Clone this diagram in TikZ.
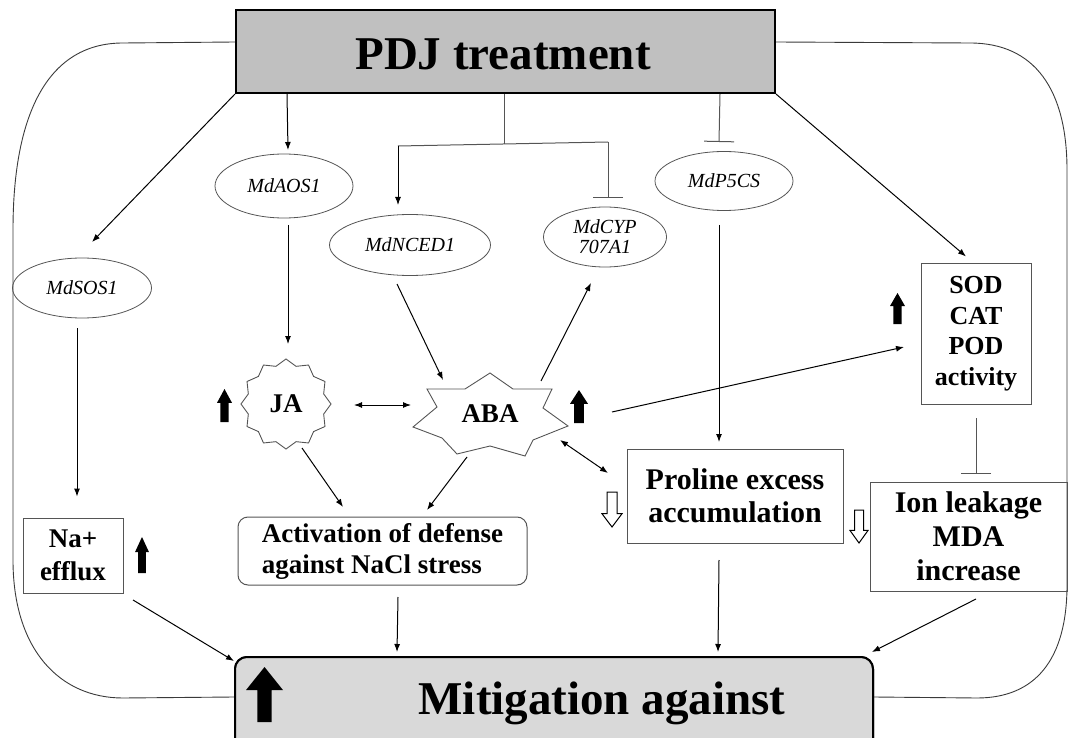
\documentclass[tikz,border=0pt]{standalone}
\usepackage{fontspec}
\setmainfont{Liberation Serif}
\usetikzlibrary{arrows.meta,calc,shapes.geometric}
\definecolor{pdjgray}{HTML}{C0C0C0}
\definecolor{mitgray}{HTML}{D9D9D9}
\definecolor{olgray}{HTML}{555555}
\definecolor{framec}{HTML}{3A3A3A}
\newcommand\blkup[5]{%
  \pgfmathsetmacro\bcx{(#1+#2)/2}%
  \pgfmathsetmacro\bhw{(#2-#1)*#5/2}%
  \pgfmathsetmacro\bhy{#3+(#4-#3)*0.42}%
  \fill[black] ({\bcx-\bhw},#4) -- ({\bcx-\bhw},\bhy) -- (#1,\bhy) -- (\bcx,#3) -- (#2,\bhy) -- ({\bcx+\bhw},\bhy) -- ({\bcx+\bhw},#4) -- cycle;}
\newcommand\hollowdown[5]{%
  \pgfmathsetmacro\bcx{(#1+#2)/2}%
  \pgfmathsetmacro\bhw{(#2-#1)*#5/2}%
  \pgfmathsetmacro\bhy{#3+(#4-#3)*0.62}%
  \draw[black, fill=white, line width=1pt] ({\bcx-\bhw},#3) -- ({\bcx-\bhw},\bhy) -- (#1,\bhy) -- (\bcx,#4) -- (#2,\bhy) -- ({\bcx+\bhw},\bhy) -- ({\bcx+\bhw},#3) -- cycle;}
\begin{document}
\begin{tikzpicture}[x=1pt,y=-1pt,
  gene/.style={ellipse, draw=olgray, line width=0.8pt, inner sep=0pt, align=center, font=\itshape\fontsize{20}{20}\selectfont},
  bbox/.style={rectangle, draw=olgray, line width=1pt, inner sep=0pt, align=center},
  arr/.style={line width=1pt, -{Latex[length=8pt,width=6pt]}},
  darr/.style={line width=1pt, {Latex[length=8pt,width=6pt]}-{Latex[length=8pt,width=6pt]}},
  inh/.style={draw=olgray, line width=1pt, -{Bar[width=30pt]}},
  glin/.style={draw=olgray, line width=1pt},
  framel/.style={draw=framec, line width=0.9pt},
  starl/.style={draw=olgray, line width=0.9pt},
  hid/.style={inner sep=0pt, font=\bfseries\fontsize{27}{27}\selectfont}
]
\useasboundingbox (0,0) rectangle (1071,738);

% main boxes
\node[draw=black, line width=2pt, fill=pdjgray, minimum width=539pt, minimum height=83pt, inner sep=0pt] (pdj) at (505.5,51.5) {};
\node[font=\bfseries\fontsize{47}{47}\selectfont, anchor=base] (pdjt) at (503,70) {PDJ treatment};
\node[draw=black, line width=2pt, fill=mitgray, rounded corners=12pt, minimum width=638pt, minimum height=96pt, inner sep=0pt] (mit) at (554,705) {};

% frame
\draw[framel] ($(pdj.north west)+(0,33)$) -- (123,43) .. controls (50,43) and (13,110) .. (13,230) -- (13,560) .. controls (13,650) and (60,698) .. (123,698) -- ($(mit.north west)+(0,41)$);
\draw[framel] ($(pdj.north east)+(0,33)$) -- (970,43) .. controls (1035,43) and (1067,90) .. (1067,170) -- (1067,585) .. controls (1067,660) and (1035,698) .. (977,698) -- ($(mit.north east)+(0,41)$);
\draw[draw=black, line width=2pt, fill=mitgray, rounded corners=12pt] (235,657) rectangle (873,760);
\node[font=\bfseries\fontsize{47}{47}\selectfont, anchor=base] (mitt) at (602,714) {Mitigation against};

% genes
\node[gene, minimum width=139pt, minimum height=60pt] (sos) at (82,288) {MdSOS1};
\node[gene, minimum width=138pt, minimum height=64pt] (aos) at (284,186) {MdAOS1};
\node[gene, minimum width=161pt, minimum height=61pt] (nced) at (410,245) {MdNCED1};
\node[gene, minimum width=123pt, minimum height=60pt] (cyp) at (605,237) {MdCYP\\707A1};
\node[gene, minimum width=138pt, minimum height=59pt] (p5cs) at (724,181) {MdP5CS};

% boxes
\node[bbox, minimum width=110pt, minimum height=141pt, font=\bfseries\fontsize{26}{30.5}\selectfont] (sod) at (976,333.5) {SOD\\CAT\\POD\\activity};
\node[bbox, minimum width=197pt, minimum height=109pt, font=\bfseries\fontsize{30}{34}\selectfont] (ion) at (968.5,536.5) {Ion leakage\\MDA\\increase};
\node[bbox, minimum width=216pt, minimum height=94pt, font=\bfseries\fontsize{30}{33}\selectfont] (pro) at (735,496) {Proline excess\\accumulation};
\node[bbox, rounded corners=10pt, align=left, minimum width=289pt, minimum height=68pt, font=\bfseries\fontsize{27}{31}\selectfont] (act) at (382.5,551) {Activation of defense\\against NaCl stress};
\node[bbox, minimum width=100pt, minimum height=75pt, font=\bfseries\fontsize{27}{33}\selectfont] (na) at (73,555.5) {Na+\\efflux};

% hormones
\node[hid, circle, minimum size=90pt] (ja) at (286,404) {JA};
\node[hid, ellipse, minimum width=156pt, minimum height=82pt] (aba) at (490,414) {ABA};
\begin{scope}[shift={(ja.center)}]
  \draw[starl] plot[samples at={0,...,23}] ({((mod(\x,2)==0) ? 45 : 39)*cos(90+15*\x)}, {-((mod(\x,2)==0) ? 45 : 39)*sin(90+15*\x)}) -- cycle;
\end{scope}
\begin{scope}[shift={(aba.center)}]
  \draw[starl] (0,-41) -- (23,-25) -- (62,-25) -- (53,-6) -- (78,12) -- (43,26) -- (35,42) -- (0,32) -- (-33,40) -- (-48,24) -- (-77,13) -- (-53,-7) -- (-63,-25) -- (-25,-25) -- cycle;
\end{scope}

% connectors from PDJ
\draw[arr] (pdj.south west) -- ($(sos)+(10,-46)$);
\draw[arr] ($(pdj.south west)+(52,0)$) -- ($(aos)+(4,-36)$);
\coordinate (sc) at (504,144);
\coordinate (sl) at (398,146);
\coordinate (sr) at (608,142);
\draw[glin] ($(pdj.south)+(-1.5,0)$) -- (sc);
\draw[glin] (sl) -- (sr);
\draw[arr] (sl) -- ($(nced)+(-12,-40)$);
\draw[inh] (sr) -- ($(cyp)+(3,-39)$);
\draw[inh] ($(pdj.south east)+(-56,0)$) -- ($(p5cs)+(-5,-39)$);
\draw[arr] (pdj.south east) -- ($(sod)+(-10,-77)$);

% middle connectors
\draw[arr] ($(sos)+(-5,40)$) -- ($(na)+(4,-59)$);
\draw[arr] ($(aos)+(4,39)$) -- ($(ja)+(2,-60)$);
\draw[arr] ($(nced)+(-13,39)$) -- ($(aba)+(-47,-34)$);
\draw[arr] ($(aba)+(51,-33)$) -- ($(cyp)+(-14,46)$);
\draw[darr] ($(ja)+(68,1)$) -- ($(aba)+(-79,-9)$);
\draw[arr] ($(ja)+(16,44)$) -- ($(act)+(-39.5,-44)$);
\draw[arr] ($(aba)+(-23,43)$) -- ($(act)+(44.5,-41)$);
\draw[darr] ($(aba)+(70,26)$) -- ($(pro)+(-127,-23)$);
\draw[arr] ($(aba)+(122,-2)$) -- ($(sod)+(-72,13.5)$);
\draw[arr] ($(p5cs)+(-5,44)$) -- ($(pro)+(-16,-54)$);
\draw[inh] ($(sod)+(0,84.5)$) -- ($(ion)+(7.5,-62.5)$);

% to mitigation
\draw[arr] ($(na)+(60,44.5)$) -- ($(mit.north west)+(0,5)$);
\draw[arr] ($(act)+(15.5,46)$) -- ($(mit.north west)+(163,-4)$);
\draw[arr] ($(pro)+(-16,64)$) -- ($(mit.north west)+(484,-4)$);
\draw[arr] ($(ion)+(7.5,62.5)$) -- ($(mit.north east)+(-2,-4)$);

% block arrows
\blkup{217}{232}{389}{422}{0.55}
\blkup{570}{588}{390}{423}{0.55}
\blkup{890}{905}{293}{324}{0.55}
\blkup{135}{149}{537}{573}{0.55}
\blkup{246}{283}{667}{722}{0.38}
\hollowdown{602}{622}{492}{527}{0.5}
\hollowdown{850}{868}{510}{543}{0.5}
\end{tikzpicture}
\end{document}
